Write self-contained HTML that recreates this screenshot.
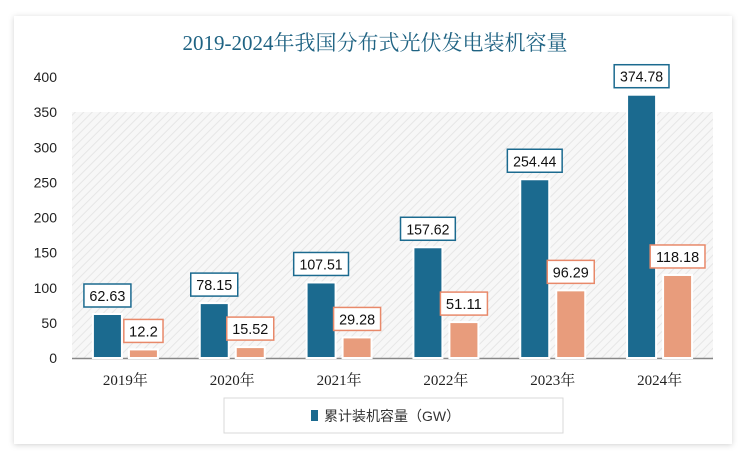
<!DOCTYPE html>
<html><head><meta charset="utf-8"><style>
body{margin:0;background:#fff;width:750px;height:459px;overflow:hidden;font-family:"Liberation Sans","Noto Sans CJK SC",sans-serif}
</style></head><body>
<svg width="750" height="459" xmlns="http://www.w3.org/2000/svg">
<defs>
<pattern id="hatch" width="6" height="6" patternUnits="userSpaceOnUse" patternTransform="rotate(45)">
<rect width="6" height="6" fill="#f7f7f7"/><line x1="0" y1="0" x2="0" y2="6" stroke="#e6e6e6" stroke-width="2"/>
</pattern>
<filter id="sh" x="-10%" y="-10%" width="120%" height="120%"><feDropShadow dx="0" dy="1" stdDeviation="3" flood-color="#000" flood-opacity="0.18"/></filter>
</defs>
<rect x="14" y="16" width="718" height="428" fill="#fff" filter="url(#sh)"/>
<text x="375" y="50" text-anchor="middle" font-family="'Liberation Serif','Noto Serif CJK SC',serif" font-size="21" fill="#1f6383">2019-2024年我国分布式光伏发电装机容量</text>
<rect x="72" y="112" width="641" height="246" fill="url(#hatch)"/>
<g id="axis"></g>
<g id="bars"></g>
<rect x="224" y="398" width="339" height="35" fill="#fff" stroke="#d9d9d9"/>
<rect x="311" y="410" width="7" height="11" fill="#1b6a8f"/>
<text x="324" y="421" font-size="14" fill="#333">累计装机容量（GW）</text>
</svg>
<script>
const categories=["2019年","2020年","2021年","2022年","2023年","2024年"];
const cumulative=[62.63,78.15,107.51,157.62,254.44,374.78];
const added=[12.2,15.52,29.28,51.11,96.29,118.18];
const yTicks=[0,50,100,150,200,250,300,350,400];
const NS="http://www.w3.org/2000/svg";
const x0=72,x1=713,yBase=358,yTop=77,yMax=400;
const y=v=>yBase-(v/yMax)*(yBase-yTop);
const bw=(x1-x0)/categories.length;
const cx=i=>x0+bw*(i+0.5);
function mk(t,a,p){const e=document.createElementNS(NS,t);for(const k in a)e.setAttribute(k,a[k]);p.appendChild(e);return e;}
const ax=document.getElementById('axis'),bg=document.getElementById('bars');
yTicks.forEach(t=>{const e=mk('text',{x:57,y:y(t)+5,'text-anchor':'end','font-size':14,fill:'#222'},ax);e.textContent=t;

});
const base=mk('line',{x1:x0,x2:x1,y1:yBase+0.5,y2:yBase+0.5,stroke:'#888','stroke-width':1.5},ax);


categories.forEach((c,i)=>{
const t=mk('text',{x:cx(i),y:385,'text-anchor':'middle','font-size':15,'font-family':"'Liberation Serif','Noto Serif CJK SC',serif",fill:'#222'},ax);t.textContent=c;


[[cumulative[i],-18,'#1b6a8f','#1b6a8f','bar-cumulative'],[added[i],18,'#e89c7c','#e8896a','bar-added']].forEach(([v,off,fill,bc,nm])=>{
const bx=cx(i)+off-14.5;
const r=mk('rect',{x:bx,y:y(v),width:29,height:yBase-y(v),fill:fill,stroke:'#fff','stroke-width':2},bg);


const s=String(v);const w=s.length*7.8+8;
const lb=mk('rect',{x:cx(i)+off-w/2,y:y(v)-30,width:w,height:23,fill:'#fff',stroke:bc,'stroke-width':1.5},bg);


const lt=mk('text',{x:cx(i)+off,y:y(v)-13,'text-anchor':'middle','font-size':15,fill:'#111',textLength:s.length*7.2,lengthAdjust:'spacingAndGlyphs'},bg);lt.textContent=s;


});
});
</script>
</body></html>
